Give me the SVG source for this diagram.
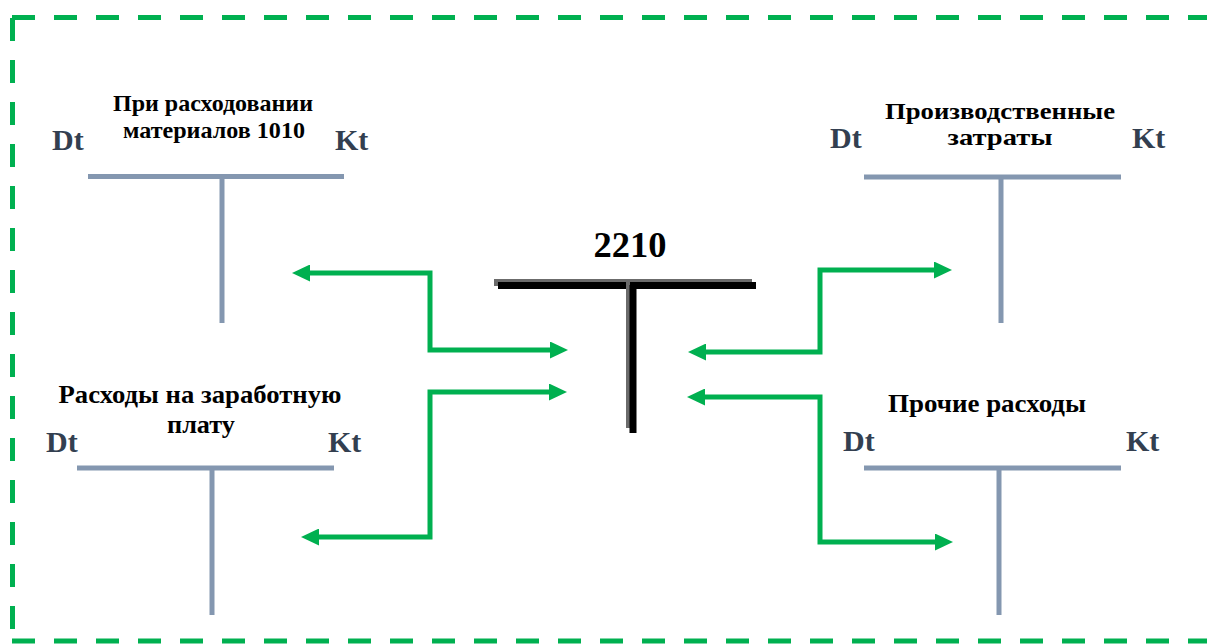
<svg xmlns="http://www.w3.org/2000/svg" width="1207" height="644" viewBox="0 0 1207 644">
<style>
.frame{fill:none;stroke:#00B050;stroke-width:5;stroke-dasharray:23 19}
.acc{fill:none;stroke:#8497B0;stroke-width:5}
.dk{font-family:"Liberation Serif","Times New Roman",serif;font-weight:bold;font-size:30px;fill:#333F50}
.lbl{font-family:"Liberation Serif","Times New Roman",serif;font-weight:bold;fill:#000;text-anchor:middle}
.arr{fill:none;stroke:#00B050;stroke-width:5;stroke-linejoin:miter;marker-start:url(#ah);marker-end:url(#ah)}
</style>
<defs>
<marker id="ah" markerUnits="userSpaceOnUse" markerWidth="18" markerHeight="17" refX="0" refY="8.5" orient="auto-start-reverse" viewBox="0 0 18 17">
<path d="M0,0 L18,8.5 L0,17 Z" fill="#00B050"/>
</marker>
</defs>
<rect width="1207" height="644" fill="#fff"/>
<g id="frame">
<path class="frame" d="M12,17.5 H1215"/>
<path class="frame" d="M12.5,-24 V644"/>
<path class="frame" d="M12,641 H1215"/>
</g>
<g id="acc-materials">
<path class="acc" d="M88,176.5 H344 M222,176 V323"/>
<text class="lbl" font-size="23" x="213" y="111" textLength="200" lengthAdjust="spacingAndGlyphs">При расходовании</text>
<text class="lbl" font-size="23" x="214" y="138" textLength="182" lengthAdjust="spacingAndGlyphs">материалов 1010</text>
<text class="dk" x="52" y="150">Dt</text>
<text class="dk" x="335" y="150">Kt</text>
</g>
<g id="acc-production">
<path class="acc" d="M864,177 H1121 M1001,177 V323"/>
<text class="lbl" font-size="23" x="1000" y="119" textLength="230" lengthAdjust="spacingAndGlyphs">Производственные</text>
<text class="lbl" font-size="23" x="1000" y="145" textLength="105" lengthAdjust="spacingAndGlyphs">затраты</text>
<text class="dk" x="830" y="148">Dt</text>
<text class="dk" x="1132" y="148">Kt</text>
</g>
<g id="acc-salary">
<path class="acc" d="M77,468 H334 M212,468 V615"/>
<text class="lbl" font-size="25" x="200" y="403" textLength="283" lengthAdjust="spacingAndGlyphs">Расходы на заработную</text>
<text class="lbl" font-size="25" x="201" y="433" textLength="68" lengthAdjust="spacingAndGlyphs">плату</text>
<text class="dk" x="46" y="452">Dt</text>
<text class="dk" x="328" y="452">Kt</text>
</g>
<g id="acc-other">
<path class="acc" d="M864,468 H1121 M999,468 V615"/>
<text class="lbl" font-size="25" x="987" y="412" textLength="198" lengthAdjust="spacingAndGlyphs">Прочие расходы</text>
<text class="dk" x="843" y="451">Dt</text>
<text class="dk" x="1126" y="451">Kt</text>
</g>
<g id="acc-2210">
<rect x="494" y="279" width="258" height="7" fill="#6b6b6b"/>
<rect x="498" y="282" width="258" height="7" fill="#000"/>
<rect x="626" y="282" width="4" height="146" fill="#6b6b6b"/>
<rect x="629.5" y="285" width="7" height="148" fill="#000"/>
<text class="lbl" font-size="36" x="630" y="257" textLength="73" lengthAdjust="spacingAndGlyphs">2210</text>
</g>
<g id="connectors">
<path class="arr" d="M310,273 H430 V350 H550"/>
<path class="arr" d="M549,392 H430 V537 H319"/>
<path class="arr" d="M934,270 H820 V352 H706"/>
<path class="arr" d="M705,397 H820 V542 H935"/>
</g>
</svg>
